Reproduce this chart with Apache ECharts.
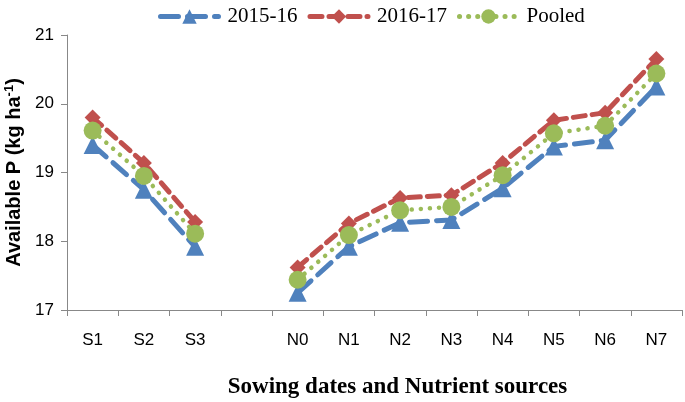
<!DOCTYPE html>
<html><head><meta charset="utf-8">
<script src="https://cdn.jsdelivr.net/npm/echarts@6/dist/echarts.min.js"></script>
<style>html,body{margin:0;padding:0;background:#fff}#c{width:685px;height:402px}</style>
</head><body><div id="c"></div>
<script>
var categories = ['S1','S2','S3','','N0','N1','N2','N3','N4','N5','N6','N7'];
var s2015 = [19.40, 18.75, 17.92, null, 17.25, 17.92, 18.27, 18.31, 18.77, 19.38, 19.47, 20.25];
var s2016 = [19.80, 19.14, 18.28, null, 17.62, 18.26, 18.63, 18.67, 19.14, 19.76, 19.87, 20.65];
var pooled = [19.61, 18.95, 18.11, null, 17.44, 18.09, 18.45, 18.50, 18.96, 19.57, 19.68, 20.44];
var yTicks = {min: 17, max: 21, interval: 1};

var chart = echarts.init(document.getElementById('c'));
chart.setOption({
  animation: false,
  grid: {left: 67, right: 3, top: 35, bottom: 92, outerBoundsMode: 'none', containLabel: false},
  legend: {
    top: 1, left: 153,
    itemWidth: 58, itemHeight: 18, itemGap: 10,
    lineStyle: {width: 5},
    textStyle: {fontFamily: 'Liberation Serif', fontSize: 21, color: '#000', padding: [0,0,0,4]},
    data: ['2015-16','2016-17','Pooled']
  },
  xAxis: {
    type: 'category', data: categories, boundaryGap: true,
    axisLine: {lineStyle: {color: '#888', width: 1}},
    axisTick: {show: true, alignWithLabel: false, length: 6, lineStyle: {color: '#888'}},
    axisLabel: {fontFamily: 'Liberation Sans', fontSize: 17, color: '#000', margin: 22, interval: 0},
    name: 'Sowing dates and Nutrient sources', nameLocation: 'middle', nameGap: 66,
    nameTextStyle: {fontFamily: 'Liberation Serif', fontSize: 23, fontWeight: 'bold', color: '#000', padding: [0,0,0,46]}
  },
  yAxis: {
    type: 'value', min: yTicks.min, max: yTicks.max, interval: yTicks.interval,
    splitLine: {show: false},
    axisLine: {show: true, lineStyle: {color: '#888', width: 1}},
    axisTick: {show: true, length: 6, lineStyle: {color: '#888'}},
    axisLabel: {fontFamily: 'Liberation Sans', fontSize: 17, color: '#000', margin: 13},
    name: '{a|Available P (kg ha}{s|-1}{a|)}', nameLocation: 'middle', nameGap: 42, nameRotate: 90,
    nameTextStyle: {
      rich: {
        a: {fontFamily: 'Liberation Sans', fontSize: 20, fontWeight: 'bold', color: '#000'},
        s: {fontFamily: 'Liberation Sans', fontSize: 13, fontWeight: 'bold', color: '#000', verticalAlign: 'top', padding: [0,0,9,0]}
      }
    }
  },
  series: [
    {name: '2015-16', type: 'line', data: s2015, connectNulls: false,
     symbol: 'triangle', symbolSize: 18,
     itemStyle: {color: '#4F81BD'},
     lineStyle: {color: '#4F81BD', width: 5, type: [18, 9], cap: 'round'}},
    {name: '2016-17', type: 'line', data: s2016, connectNulls: false,
     symbol: 'diamond', symbolSize: 16,
     itemStyle: {color: '#C0504D'},
     lineStyle: {color: '#C0504D', width: 5, type: [12, 7], cap: 'round'}},
    {name: 'Pooled', type: 'line', data: pooled, connectNulls: false,
     symbol: 'circle', symbolSize: 18,
     itemStyle: {color: '#9BBB59'},
     lineStyle: {color: '#9BBB59', width: 4.5, type: [0.1, 9], cap: 'round'}}
  ]
});
</script></body></html>
